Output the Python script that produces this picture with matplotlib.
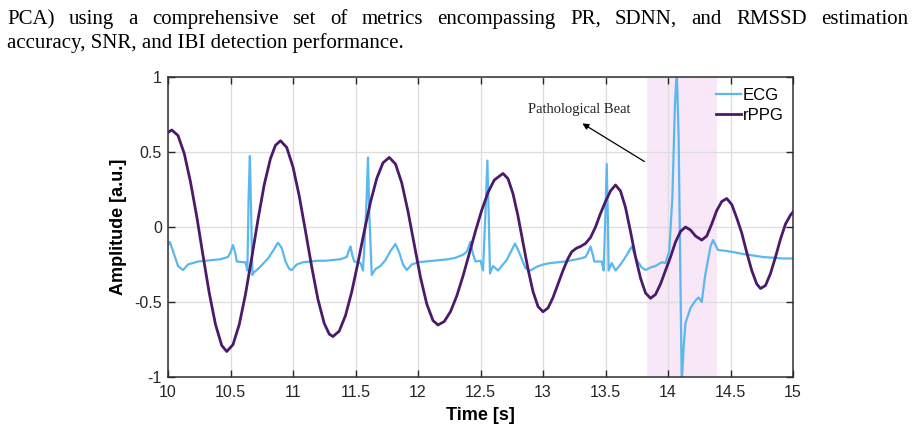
import matplotlib
matplotlib.use('Agg')
import matplotlib.pyplot as plt

# paragraph text above the figure
text_lines = ["PCA) using a comprehensive set of metrics encompassing PR, SDNN, and RMSSD estimation",
              "accuracy, SNR, and IBI detection performance."]

# ECG trace (time [s], amplitude)
ecg_t = [10.00, 10.015, 10.04, 10.08, 10.12, 10.16, 10.20, 10.24, 10.30, 10.36, 10.42, 10.48, 10.50, 10.52,
         10.54, 10.55, 10.60, 10.62, 10.635, 10.645, 10.655, 10.665, 10.675, 10.69, 10.72, 10.76, 10.80,
         10.84, 10.88, 10.91, 10.94, 10.97, 10.99, 11.03, 11.08, 11.14, 11.20, 11.26, 11.32, 11.38, 11.43,
         11.45, 11.46, 11.475, 11.49, 11.54, 11.56, 11.585, 11.60, 11.61, 11.63, 11.66, 11.70, 11.74, 11.78,
         11.82, 11.85, 11.88, 11.91, 11.95, 12.00, 12.06, 12.12, 12.18, 12.24, 12.30, 12.36, 12.39, 12.42,
         12.44, 12.46, 12.50, 12.52, 12.54, 12.555, 12.565, 12.576, 12.60, 12.64, 12.68, 12.71, 12.74,
         12.776, 12.81, 12.86, 12.90, 12.95, 13.00, 13.06, 13.12, 13.18, 13.24, 13.30, 13.34, 13.36, 13.38,
         13.40, 13.41, 13.47, 13.485, 13.50, 13.51, 13.518, 13.525, 13.55, 13.58, 13.62, 13.66, 13.71,
         13.75, 13.79, 13.82, 13.86, 13.90, 13.95, 13.98, 14.01, 14.035, 14.055, 14.07, 14.085, 14.10,
         14.11, 14.125, 14.14, 14.18, 14.22, 14.245, 14.27, 14.296, 14.34, 14.36, 14.40, 14.47, 14.54,
         14.60, 14.68, 14.76, 14.84, 14.92, 15.00]
ecg_v = [-0.12, -0.10, -0.16, -0.26, -0.287, -0.25, -0.24, -0.23, -0.225, -0.22, -0.215, -0.20, -0.17, -0.12,
         -0.18, -0.23, -0.235, -0.235, -0.29, 0.20, 0.473, 0.10, -0.32, -0.30, -0.28, -0.245, -0.21,
         -0.16, -0.105, -0.14, -0.23, -0.28, -0.287, -0.25, -0.235, -0.23, -0.225, -0.225, -0.22, -0.215, -0.20,
         -0.15, -0.13, -0.19, -0.23, -0.24, -0.29, 0.10, 0.464, 0.10, -0.32, -0.28, -0.26, -0.22, -0.16,
         -0.113, -0.17, -0.25, -0.287, -0.25, -0.235, -0.23, -0.225, -0.22, -0.215, -0.205, -0.185, -0.165, -0.098,
         -0.18, -0.23, -0.225, -0.29, 0.10, 0.443, 0.10, -0.31, -0.26, -0.29, -0.25, -0.22, -0.17,
         -0.11, -0.17, -0.275, -0.29, -0.265, -0.25, -0.24, -0.235, -0.23, -0.22, -0.21, -0.20, -0.17, -0.13,
         -0.19, -0.23, -0.23, -0.29, 0.10, 0.42, 0.10, -0.29, -0.24, -0.29, -0.25, -0.20, -0.13,
         -0.22, -0.27, -0.287, -0.27, -0.26, -0.235, -0.24, -0.16, 0.20, 0.80, 1.05, 0.60, -0.40,
         -1.05, -0.80, -0.64, -0.54, -0.49, -0.47, -0.50, -0.33, -0.13, -0.087, -0.153, -0.16, -0.17,
         -0.18, -0.19, -0.20, -0.205, -0.21, -0.21]

# rPPG trace (time [s], amplitude)
ppg_t = [10.00, 10.03, 10.08, 10.13, 10.18, 10.23, 10.28, 10.33, 10.38, 10.43, 10.47,
         10.52, 10.57, 10.62, 10.67, 10.72, 10.77, 10.82, 10.86, 10.90,
         10.95, 11.00, 11.05, 11.10, 11.15, 11.20, 11.25, 11.29, 11.32,
         11.37, 11.42, 11.47, 11.52, 11.57, 11.62, 11.67, 11.72, 11.77,
         11.82, 11.87, 11.92, 11.97, 12.02, 12.07, 12.12, 12.16,
         12.21, 12.26, 12.31, 12.36, 12.41, 12.46, 12.51, 12.56, 12.61, 12.68,
         12.72, 12.76, 12.80, 12.84, 12.88, 12.92, 12.96, 13.00,
         13.04, 13.08, 13.12, 13.16, 13.20, 13.23, 13.27, 13.30, 13.34, 13.38, 13.42, 13.46, 13.50, 13.54, 13.58,
         13.62, 13.66, 13.70, 13.74, 13.78, 13.82, 13.86, 13.90, 13.94, 13.98, 14.02, 14.06, 14.10, 14.14,
         14.18, 14.22, 14.27, 14.31, 14.35, 14.39, 14.43, 14.47, 14.51, 14.55, 14.59, 14.63, 14.67, 14.71,
         14.74, 14.78, 14.82, 14.86, 14.90, 14.94, 14.98, 15.00]
ppg_v = [0.63, 0.647, 0.61, 0.49, 0.30, 0.07, -0.19, -0.44, -0.65, -0.79, -0.83,
         -0.784, -0.65, -0.448, -0.205, 0.05, 0.283, 0.457, 0.545, 0.575,
         0.53, 0.40, 0.206, -0.028, -0.267, -0.484, -0.643, -0.714, -0.73,
         -0.694, -0.59, -0.432, -0.237, -0.029, 0.166, 0.324, 0.428, 0.464,
         0.42, 0.294, 0.104, -0.117, -0.336, -0.513, -0.624, -0.653,
         -0.63, -0.564, -0.46, -0.327, -0.178, -0.027, 0.112, 0.23, 0.313, 0.357,
         0.322, 0.222, 0.073, -0.104, -0.28, -0.43, -0.53, -0.565,
         -0.54, -0.47, -0.38, -0.29, -0.21, -0.165, -0.14, -0.13, -0.11, -0.07, 0.0, 0.09, 0.17, 0.24, 0.28,
         0.24, 0.13, -0.03, -0.20, -0.34, -0.44, -0.475, -0.45, -0.38, -0.29, -0.20, -0.10, -0.03, 0.0,
         -0.02, -0.06, -0.087, -0.06, 0.02, 0.11, 0.17, 0.19, 0.15, 0.06, -0.04, -0.17, -0.29, -0.38,
         -0.41, -0.39, -0.31, -0.20, -0.08, 0.02, 0.08, 0.10]

x_ticks = [10, 10.5, 11, 11.5, 12, 12.5, 13, 13.5, 14, 14.5, 15]
x_tick_labels = ['10', '10.5', '11', '11.5', '12', '12.5', '13', '13.5', '14', '14.5', '15']
y_ticks = [-1, -0.5, 0, 0.5, 1]
y_tick_labels = ['-1', '-0.5', '0', '0.5', '1']
patho_span = (13.83, 14.39)

W, H = 915, 433
fig = plt.figure(figsize=(W / 100, H / 100), dpi=100)
renderer = fig.canvas.get_renderer()

# justified first line, plain second line
serif = dict(family='Liberation Serif', fontsize=15, va='baseline', color='black')
words = text_lines[0].split()
objs = [fig.text(0, 0, w, **serif) for w in words]
widths = [o.get_window_extent(renderer).width for o in objs]
left, right = 7, 908
gap = (right - left - sum(widths)) / (len(words) - 1)
x = left
for o, w in zip(objs, widths):
    o.set_position((x / W, (H - 24) / H))
    x += w + gap
fig.text(left / W, (H - 48) / H, text_lines[1], **serif)

ax = fig.add_axes([168 / W, 56 / H, 625 / W, 300 / H])
ax.set_axisbelow(True)
ax.axvspan(patho_span[0], patho_span[1], color='#f7e7f7', lw=0, zorder=0.3)
ax.plot(ecg_t, ecg_v, color='#5bb8ee', lw=1.6, label='ECG', zorder=2)
ax.plot(ppg_t, ppg_v, color='#4b1a6b', lw=2.0, label='rPPG', zorder=3)

ax.set_xlim(10, 15)
ax.set_ylim(-1, 1)
ax.set_xticks(x_ticks)
ax.set_xticklabels(x_tick_labels)
ax.set_yticks(y_ticks)
ax.set_yticklabels(y_tick_labels)
ax.grid(True, color='#dddddd', lw=0.9)
ax.tick_params(direction='in', top=True, right=True, length=5, width=1,
               labelsize=11.5, colors='#262626')
ax.tick_params(axis='x', pad=6)
ax.tick_params(axis='y', pad=4.5)
for s in ax.spines.values():
    s.set_color('#303030')
    s.set_linewidth(1.1)

ax.set_xlabel('Time [s]', fontsize=13, fontweight='bold', family='Liberation Sans', labelpad=5)
ax.set_ylabel('Amplitude [a.u.]', fontsize=13, fontweight='bold', family='Liberation Sans', labelpad=5)
for lab in ax.get_xticklabels() + ax.get_yticklabels():
    lab.set_family('Liberation Sans')

ax.text(13.288, 0.78, 'Pathological Beat', family='Liberation Serif', fontsize=10.5,
        ha='center', va='center', color='#222222')
ax.annotate('', xy=(13.296, 0.70), xytext=(13.83, 0.427),
            arrowprops=dict(arrowstyle='-|>', color='black', lw=0.9, mutation_scale=9))

ax.legend(loc='upper right', bbox_to_anchor=(784 / W, (H - 88) / H), bbox_transform=fig.transFigure,
          frameon=False, handlelength=1.5, handletextpad=0.1, labelspacing=0.3,
          borderpad=0, borderaxespad=0, prop={'family': 'Liberation Sans', 'size': 12})

fig.savefig('out.png', dpi=100)
